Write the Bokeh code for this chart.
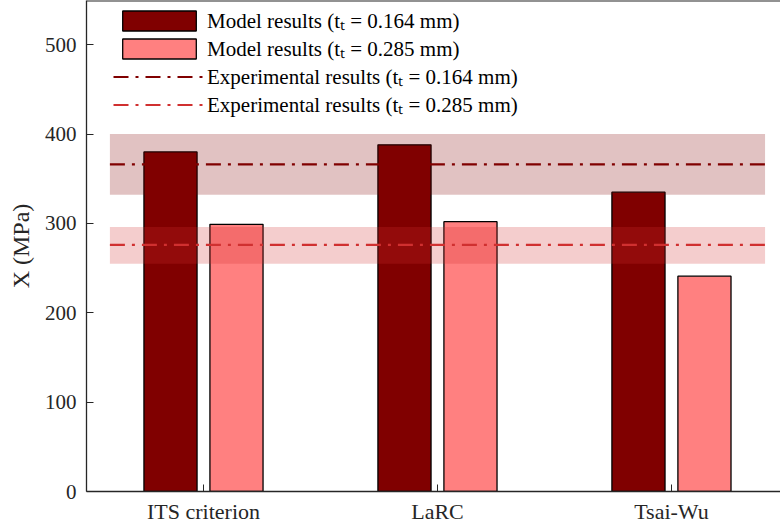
from bokeh.plotting import figure
from bokeh.models import (FixedTicker, Legend, LegendItem, ColumnDataSource,
                          Range1d, Span)
from bokeh.transform import dodge
from bokeh.embed import file_html
from bokeh.resources import INLINE

# ---- data ----
categories = ["ITS criterion", "LaRC", "Tsai-Wu"]
model_thin = [380, 388, 335]    # t_t = 0.164 mm
model_thick = [299, 302, 241]   # t_t = 0.285 mm
exp_mean = [366, 276]           # experiments: 0.164 mm, 0.285 mm
exp_low = [332, 255]
exp_high = [400, 296]
y_ticks = [0, 100, 200, 300, 400, 500]
thin_label = "Model results (t\u209c = 0.164 mm)"
thick_label = "Model results (t\u209c = 0.285 mm)"
exp_thin_label = "Experimental results (t\u209c = 0.164 mm)"
exp_thick_label = "Experimental results (t\u209c = 0.285 mm)"

DARK = "#800000"
PINK = "#FF8080"
RED = "#D03030"
AX = "#262626"
FONT = "Liberation Serif"

n = len(categories)
x_pos = list(range(1, n + 1))
bar_w = 0.227
off = 0.141
band_left = 1 - 0.4
band_right = n + 0.4
y_top = 549.5

p = figure(width=780, height=529, x_range=Range1d(0.5, 3.466),
           y_range=Range1d(0, y_top), output_backend="svg",
           toolbar_location=None, min_border_left=86, min_border_right=0,
           min_border_top=0, min_border_bottom=38)
p.background_fill_color = "white"
p.border_fill_color = "white"
p.outline_line_color = None
p.xgrid.visible = False
p.ygrid.visible = False

src = ColumnDataSource(dict(x=x_pos, thin=model_thin, thick=model_thick))
r_thin = p.vbar(x=dodge("x", -off), top="thin", width=bar_w, source=src,
                fill_color=DARK, line_color="black", line_width=1.3)
r_thick = p.vbar(x=dodge("x", off), top="thick", width=bar_w, source=src,
                 fill_color=PINK, line_color="black", line_width=1.3)

esrc = ColumnDataSource(dict(left=[band_left] * 2, right=[band_right] * 2,
                             lo=exp_low, hi=exp_high, mean=exp_mean,
                             color=[DARK, RED], alpha=[0.24, 0.24]))
p.quad(left="left", right="right", bottom="lo", top="hi", source=esrc,
       fill_color="color", fill_alpha="alpha", line_color=None)
r_e1 = p.line(x=[band_left, band_right], y=[exp_mean[0]] * 2, line_color=DARK,
              line_width=2.2, line_dash="15 7 3 7")
r_e2 = p.line(x=[band_left, band_right], y=[exp_mean[1]] * 2, line_color=RED,
              line_width=2.2, line_dash="15 7 3 7")

# top frame line
p.add_layout(Span(location=y_top, dimension="width", line_color=AX,
                  line_width=2))

# axes
p.xaxis.ticker = FixedTicker(ticks=x_pos)
p.xaxis.major_label_overrides = {x: c for x, c in zip(x_pos, categories)}
p.yaxis.ticker = FixedTicker(ticks=y_ticks)
for ax in (p.xaxis[0], p.yaxis[0]):
    ax.axis_line_color = AX
    ax.axis_line_width = 1.3
    ax.major_tick_line_color = AX
    ax.major_tick_in = 7
    ax.major_tick_out = 0
    ax.minor_tick_line_color = None
    ax.major_label_text_font = FONT
    ax.major_label_text_font_size = "21px"
    ax.major_label_text_color = AX
p.xaxis.major_label_text_font_size = "22px"
p.xaxis.major_label_standoff = 7
p.yaxis.major_label_standoff = 10
p.yaxis.axis_label = "X (MPa)"
p.yaxis.axis_label_text_font = FONT
p.yaxis.axis_label_text_font_style = "normal"
p.yaxis.axis_label_text_font_size = "24px"
p.yaxis.axis_label_text_color = AX
p.yaxis.axis_label_standoff = 8

legend = Legend(items=[
    LegendItem(label=thin_label, renderers=[r_thin]),
    LegendItem(label=thick_label, renderers=[r_thick]),
    LegendItem(label=exp_thin_label, renderers=[r_e1]),
    LegendItem(label=exp_thick_label, renderers=[r_e2]),
], location=(27, 373), glyph_width=92, glyph_height=25, label_height=20,
    spacing=0, padding=0, margin=0, label_standoff=2,
    label_text_font=FONT, label_text_font_size="21px", label_text_color="black",
    border_line_color=None, background_fill_alpha=0)
p.add_layout(legend)

open("out.html", "w").write(file_html(p, INLINE))
